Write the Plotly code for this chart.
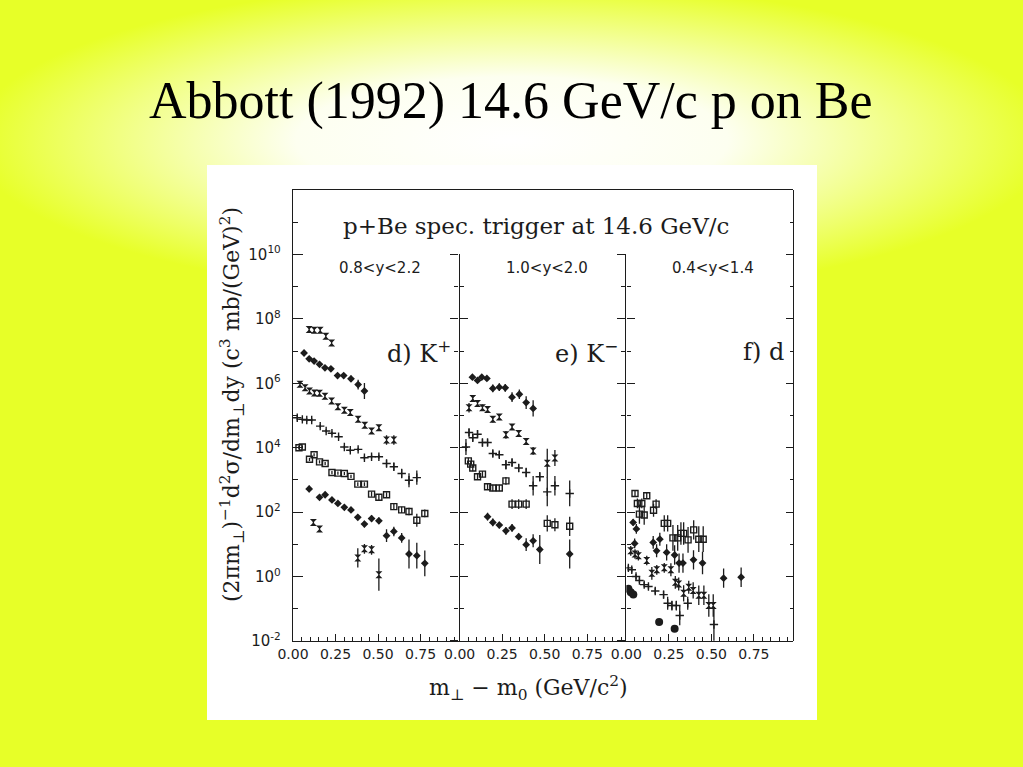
import base64
import plotly.graph_objects as go

# ---------------- data (log10 of the cross-section) ----------------
# panel d) K+  0.8<y<2.2
kp_a_x = [0.095, 0.125, 0.160, 0.193, 0.227]
kp_a_lg = [7.67, 7.65, 7.65, 7.46, 7.25]
kp_a_err = [0.05, 0.05, 0.05, 0.06, 0.08]

kp_b_x = [0.065, 0.095, 0.124, 0.156, 0.188, 0.223, 0.262, 0.298, 0.341, 0.383, 0.420]
kp_b_lg = [6.94, 6.76, 6.69, 6.59, 6.48, 6.45, 6.24, 6.24, 6.14, 5.96, 5.76]
kp_b_err = [0.05, 0.05, 0.05, 0.05, 0.05, 0.06, 0.08, 0.08, 0.10, 0.15, 0.25]

kp_c_x = [0.041, 0.071, 0.097, 0.126, 0.156, 0.188, 0.227, 0.264, 0.302, 0.337, 0.383,
          0.422, 0.462, 0.505, 0.550, 0.593]
kp_c_lg = [5.97, 5.86, 5.76, 5.70, 5.69, 5.60, 5.45, 5.27, 5.16, 5.09, 4.88, 4.70, 4.52,
           4.62, 4.24, 4.24]
kp_c_err = [0.04, 0.04, 0.04, 0.04, 0.04, 0.04, 0.05, 0.05, 0.05, 0.05, 0.07, 0.07, 0.08,
            0.08, 0.15, 0.15]

kp_d_x = [0.025, 0.055, 0.081, 0.110, 0.160, 0.195, 0.229, 0.268, 0.302, 0.337, 0.383,
          0.420, 0.462, 0.505, 0.550, 0.593, 0.639, 0.682, 0.728]
kp_d_lg = [4.93, 4.88, 4.86, 4.86, 4.67, 4.52, 4.45, 4.34, 4.02, 3.92, 3.95, 3.69, 3.72,
           3.72, 3.51, 3.41, 3.20, 2.99, 3.07]
kp_d_err = [0.08, 0.05, 0.05, 0.05, 0.05, 0.05, 0.05, 0.05, 0.05, 0.05, 0.05, 0.06, 0.06,
            0.06, 0.12, 0.12, 0.15, 0.22, 0.22]

kp_e_x = [0.035, 0.055, 0.097, 0.124, 0.156, 0.189, 0.229, 0.264, 0.302, 0.341, 0.381,
          0.420, 0.462, 0.505, 0.550, 0.593, 0.639, 0.682, 0.728, 0.775]
kp_e_lg = [4.00, 4.02, 3.64, 3.78, 3.56, 3.51, 3.23, 3.21, 3.20, 3.11, 2.87, 2.87, 2.56,
           2.46, 2.54, 2.17, 2.07, 2.02, 1.75, 1.96]
kp_e_err = [0.05, 0.05, 0.05, 0.05, 0.05, 0.05, 0.05, 0.05, 0.05, 0.05, 0.06, 0.06, 0.08,
            0.10, 0.08, 0.10, 0.10, 0.12, 0.20, 0.12]

kp_f_x = [0.095, 0.156, 0.189, 0.229, 0.264, 0.302, 0.341, 0.381, 0.420, 0.462, 0.505,
          0.550, 0.593, 0.639, 0.682, 0.728, 0.775]
kp_f_lg = [2.72, 2.46, 2.54, 2.38, 2.27, 2.15, 2.07, 1.84, 1.63, 1.80, 1.73, 1.27, 1.40,
           1.20, 0.70, 0.65, 0.41]
kp_f_err = [0.10, 0.06, 0.06, 0.06, 0.06, 0.06, 0.06, 0.08, 0.10, 0.10, 0.10, 0.20, 0.15,
            0.15, 0.45, 0.40, 0.40]

kp_g_x = [0.120, 0.156, 0.381, 0.420, 0.462, 0.505]
kp_g_lg = [1.68, 1.48, 0.58, 0.86, 0.83, 0.06]
kp_g_err = [0.08, 0.08, 0.30, 0.15, 0.15, 0.50]

# panel e) K-  1.0<y<2.0
km_a_x = [0.075, 0.105, 0.130, 0.160, 0.195, 0.233, 0.268, 0.308, 0.351, 0.391, 0.432]
km_a_lg = [6.19, 6.09, 6.19, 6.15, 5.84, 5.88, 5.86, 5.57, 5.66, 5.40, 5.22]
km_a_err = [0.08, 0.08, 0.08, 0.08, 0.12, 0.12, 0.12, 0.15, 0.15, 0.20, 0.25]

km_b_x = [0.055, 0.077, 0.105, 0.134, 0.164, 0.195, 0.233, 0.272, 0.308, 0.347, 0.391,
          0.432, 0.515, 0.560]
km_b_lg = [5.24, 5.53, 5.37, 5.24, 5.19, 4.88, 4.95, 4.40, 4.64, 4.44, 4.19, 3.90, 3.52, 3.68]
km_b_err = [0.15, 0.08, 0.08, 0.10, 0.08, 0.10, 0.08, 0.12, 0.08, 0.08, 0.10, 0.12, 0.45, 0.25]

km_c_x = [0.037, 0.055, 0.077, 0.105, 0.134, 0.164, 0.195, 0.233, 0.272, 0.308, 0.347,
          0.391, 0.432, 0.471, 0.515, 0.560, 0.647]
km_c_lg = [4.02, 4.47, 4.31, 4.42, 4.16, 4.16, 3.82, 3.78, 3.47, 3.54, 3.37, 3.23, 2.82,
           3.10, 2.63, 2.82, 2.58]
km_c_err = [0.25, 0.12, 0.12, 0.12, 0.12, 0.10, 0.10, 0.10, 0.15, 0.12, 0.12, 0.15, 0.30,
            0.15, 0.45, 0.30, 0.40]

km_d_x = [0.051, 0.065, 0.077, 0.105, 0.134, 0.164, 0.195, 0.233, 0.272, 0.308, 0.347,
          0.391, 0.515, 0.560, 0.647]
km_d_lg = [3.59, 3.49, 3.37, 3.10, 3.18, 2.79, 2.75, 2.75, 2.97, 2.25, 2.25, 2.25, 1.65,
           1.61, 1.56]
km_d_err = [0.10, 0.10, 0.10, 0.10, 0.10, 0.10, 0.10, 0.10, 0.12, 0.15, 0.15, 0.15, 0.25,
            0.20, 0.30]

km_e_x = [0.164, 0.195, 0.233, 0.272, 0.308, 0.347, 0.391, 0.432, 0.471, 0.647]
km_e_lg = [1.86, 1.68, 1.60, 1.42, 1.51, 1.24, 0.99, 1.11, 0.84, 0.70]
km_e_err = [0.12, 0.12, 0.10, 0.12, 0.12, 0.10, 0.20, 0.20, 0.45, 0.45]

# panel f) d  0.4<y<1.4
dn_a_x = [0.051, 0.065, 0.077, 0.091, 0.105, 0.120, 0.160, 0.175, 0.223, 0.243, 0.274,
          0.302, 0.321, 0.337, 0.363, 0.396, 0.426, 0.452]
dn_a_lg = [2.58, 2.27, 1.94, 2.27, 1.91, 2.51, 2.06, 2.25, 1.65, 1.65, 1.20, 1.20, 1.34,
           1.34, 1.14, 1.45, 1.16, 1.16]
dn_a_err = [0.10, 0.15, 0.30, 0.15, 0.30, 0.10, 0.20, 0.15, 0.25, 0.25, 0.40, 0.40, 0.35,
            0.35, 0.40, 0.30, 0.40, 0.40]

dn_b_x = [0.040, 0.049, 0.059, 0.158, 0.178, 0.197, 0.237, 0.284, 0.310, 0.333, 0.395,
          0.448, 0.572, 0.675]
dn_b_lg = [1.68, 1.03, 1.48, 1.06, 0.80, 1.16, 0.75, 0.67, 0.42, 0.42, 0.52, 0.42, -0.05, -0.02]
dn_b_err = [0.10, 0.15, 0.15, 0.20, 0.20, 0.20, 0.25, 0.30, 0.30, 0.30, 0.30, 0.35, 0.30, 0.30]

dn_c_x = [0.026, 0.051, 0.071, 0.120, 0.150, 0.179, 0.223, 0.262, 0.288, 0.308, 0.337,
          0.367, 0.393, 0.426, 0.456, 0.485, 0.511]
dn_c_lg = [0.80, 0.70, 0.65, 0.50, 0.10, 0.21, 0.27, 0.21, -0.18, -0.23, -0.52, -0.33,
           -0.43, -0.58, -0.58, -0.90, -0.90]
dn_c_err = [0.15, 0.15, 0.15, 0.15, 0.20, 0.15, 0.15, 0.20, 0.20, 0.20, 0.25, 0.20, 0.25,
            0.30, 0.30, 0.35, 0.35]

dn_d_x = [0.012, 0.032, 0.057, 0.077, 0.105, 0.130, 0.170, 0.219, 0.243, 0.268, 0.294,
          0.314, 0.361, 0.515]
dn_d_lg = [0.27, 0.21, 0.00, -0.12, -0.25, -0.31, -0.45, -0.56, -0.83, -0.90, -0.90,
           -1.21, -0.83, -1.49]
dn_d_err = [0.08, 0.08, 0.08, 0.08, 0.08, 0.08, 0.10, 0.12, 0.20, 0.15, 0.15, 0.30, 0.20, 0.50]

dn_e_x = [0.012, 0.026, 0.041, 0.193, 0.284]
dn_e_lg = [-0.38, -0.49, -0.56, -1.41, -1.62]

# axes / labels
x_ticks = [0.0, 0.25, 0.50, 0.75]
x_ticktext = ["0.00", "0.25", "0.50", "0.75"]
y_exponents = [-2, 0, 2, 4, 6, 8, 10]
y_minor_exponents = [-1, 1, 3, 5, 7, 9, 11]
panel_names = ["d) K<sup>+</sup>", "e) K<sup>\u2212</sup>", "f) d"]
panel_cuts = ["0.8<y<2.2", "1.0<y<2.0", "0.4<y<1.4"]
Y_TOP = 12          # top of the frame (decades)
SEP_TOP = 10        # panel separators stop at 10^10

# ---------------- layout geometry (pixels) ----------------
W, H = 1023, 767
L, R, T, B = 293, 793, 190, 641


def fx(px):
    return (px - L) / (R - L)


def fy(py):
    return (B - py) / (B - T)


INK = "#1c1c1c"
fig = go.Figure()

# empty traces so that the frame / separator axes get their own subplots (drawn first)
for xa, ya in [("x2", "y2"), ("x2", "y3"), ("x3", "y4"), ("x3", "y5"), ("x3", "y6")]:
    fig.add_trace(go.Scatter(x=[], y=[], xaxis=xa, yaxis=ya, showlegend=False,
                             hoverinfo="skip"))


def add_series(panel, xs, lgs, errs, symbol, size, open_=False):
    ys = [10 ** v for v in lgs]
    kw = {}
    if errs is not None:
        kw["error_y"] = dict(type="data", symmetric=False,
                             array=[y * (10 ** e - 1) for y, e in zip(ys, errs)],
                             arrayminus=[y * (1 - 10 ** (-e)) for y, e in zip(ys, errs)],
                             color=INK, thickness=1.3, width=0)
    marker = dict(symbol=symbol, size=size, color=INK,
                  line=dict(color=INK, width=1.4 if open_ else 0))
    fig.add_trace(go.Scatter(x=xs, y=ys, mode="markers", marker=marker,
                             xaxis="x" if panel == 1 else f"x{panel}", yaxis="y",
                             showlegend=False, hoverinfo="skip", **kw))


add_series(1, kp_a_x, kp_a_lg, kp_a_err, "hourglass", 7)
add_series(1, kp_b_x, kp_b_lg, kp_b_err, "diamond", 6)
add_series(1, kp_c_x, kp_c_lg, kp_c_err, "hourglass", 7)
add_series(1, kp_d_x, kp_d_lg, kp_d_err, "cross-thin", 6, True)
add_series(1, kp_e_x, kp_e_lg, kp_e_err, "square-open", 6, True)
add_series(1, kp_f_x, kp_f_lg, kp_f_err, "diamond", 6)
add_series(1, kp_g_x, kp_g_lg, kp_g_err, "hourglass", 7)

add_series(2, km_a_x, km_a_lg, km_a_err, "diamond", 6)
add_series(2, km_b_x, km_b_lg, km_b_err, "hourglass", 7)
add_series(2, km_c_x, km_c_lg, km_c_err, "cross-thin", 6, True)
add_series(2, km_d_x, km_d_lg, km_d_err, "square-open", 6, True)
add_series(2, km_e_x, km_e_lg, km_e_err, "diamond", 6)

add_series(3, dn_a_x, dn_a_lg, dn_a_err, "square-open", 6, True)
add_series(3, dn_b_x, dn_b_lg, dn_b_err, "diamond", 6)
add_series(3, dn_c_x, dn_c_lg, dn_c_err, "hourglass", 7)
add_series(3, dn_d_x, dn_d_lg, dn_d_err, "cross-thin", 6, True)
add_series(3, dn_e_x, dn_e_lg, None, "circle", 8)

tickfont = dict(family="DejaVu Sans", size=14, color=INK)
xcommon = dict(range=[0, 0.98], showgrid=False, zeroline=False, showline=True,
               linecolor=INK, linewidth=1.4, mirror=True, ticks="inside", ticklen=7,
               tickwidth=1.2, tickcolor=INK, tickvals=x_ticks, ticktext=x_ticktext,
               tickfont=tickfont, anchor="y",
               minor=dict(dtick=0.05, ticks="inside", ticklen=4, tickcolor=INK, tickwidth=1))

major_vals = [10 ** e for e in y_exponents]
minor_vals = [10 ** e for e in y_minor_exponents]


def yax(anchor, side, ticks, top, labels=False, maj=8, mnr=4):
    d = dict(type="log", range=[-2, top], domain=[0, (top + 2) / (Y_TOP + 2)],
             anchor=anchor, side=side, showgrid=False, zeroline=False, showline=True,
             linecolor=INK, linewidth=1.4, ticks=ticks, ticklen=maj, tickwidth=1.2,
             tickcolor=INK, tickvals=major_vals,
             minor=dict(tickvals=minor_vals, ticks=ticks, ticklen=mnr, tickcolor=INK,
                        tickwidth=1.2))
    if labels:
        d.update(ticktext=[f"10<sup>{e}</sup>" for e in y_exponents],
                 tickfont=dict(family="DejaVu Sans", size=15, color=INK),
                 ticklabelstandoff=8)
    else:
        d.update(showticklabels=False)
    return d


layout = dict(
    width=W, height=H,
    margin=dict(l=L, r=W - R, t=T, b=H - B, pad=0),
    paper_bgcolor="#e7ff28", plot_bgcolor="rgba(0,0,0,0)",
    xaxis=dict(domain=[0, 1 / 3], **xcommon),
    xaxis2=dict(domain=[1 / 3, 2 / 3], **xcommon),
    xaxis3=dict(domain=[2 / 3, 1], **xcommon),
    yaxis=yax("x", "left", "inside", Y_TOP, labels=True, maj=10, mnr=5),
    yaxis2=yax("x2", "left", "inside", SEP_TOP),
    yaxis3=yax("x2", "left", "outside", SEP_TOP),
    yaxis4=yax("x3", "left", "inside", SEP_TOP),
    yaxis5=yax("x3", "left", "outside", SEP_TOP),
    yaxis6=yax("x3", "right", "inside", Y_TOP, maj=7, mnr=3),
)
fig.update_layout(**layout)

# background gradient (decoration)
svg = ('<svg xmlns="http://www.w3.org/2000/svg" width="1023" height="767" '
       'viewBox="0 0 1023 767" preserveAspectRatio="none"><defs>'
       '<radialGradient id="g" gradientUnits="userSpaceOnUse" cx="0" cy="0" r="1" '
       'gradientTransform="translate(512 140) scale(540 158)">'
       '<stop offset="0" stop-color="#ffffff"/><stop offset="0.4" stop-color="#fdfff0"/>'
       '<stop offset="1" stop-color="#e7ff28"/></radialGradient></defs>'
       '<rect width="1023" height="767" fill="#e7ff28"/>'
       '<rect width="1023" height="767" fill="url(#g)"/></svg>')
uri = "data:image/svg+xml;base64," + base64.b64encode(svg.encode()).decode()
fig.add_layout_image(dict(source=uri, xref="paper", yref="paper", x=fx(0), y=fy(0),
                          sizex=W / (R - L), sizey=H / (B - T), xanchor="left",
                          yanchor="top", sizing="stretch", layer="below"))
fig.add_shape(type="rect", xref="paper", yref="paper", x0=fx(207), x1=fx(817),
              y0=fy(720), y1=fy(165), fillcolor="white", line=dict(width=0), layer="below")

serif = "DejaVu Serif"
ann = []
ann.append(dict(text="Abbott (1992) 14.6 GeV/c p on Be", x=fx(511), y=fy(101),
                font=dict(family="Liberation Serif", size=52, color="black")))
ann.append(dict(text="p+Be spec. trigger at 14.6 GeV/c", x=fx(536), y=fy(226),
                font=dict(family=serif, size=23, color=INK)))
for i, (cut, name) in enumerate(zip(panel_cuts, panel_names)):
    x0 = L + i * (R - L) / 3
    ann.append(dict(text=cut, x=fx(x0 + 44), xanchor="left", y=fy(268),
                    font=dict(family="DejaVu Sans", size=15, color=INK)))
    ann.append(dict(text=name, x=fx(x0 + 160), xanchor="right", y=fy(352),
                    font=dict(family=serif, size=24, color=INK)))
ann.append(dict(text="m<sub>\u22a5</sub> \u2212 m<sub>0</sub> (GeV/c<sup>2</sup>)",
                x=fx(528), y=fy(688), font=dict(family=serif, size=22, color=INK)))
ann.append(dict(text="(2\u03c0m<sub>\u22a5</sub>)<sup>\u22121</sup>d<sup>2</sup>\u03c3/dm<sub>\u22a5</sub>dy"
                     " (c<sup>3</sup> mb/(GeV)<sup>2</sup>)",
                x=fx(232), y=fy(405), textangle=-90,
                font=dict(family=serif, size=22, color=INK)))
for a in ann:
    a.setdefault("xanchor", "center")
    a.update(xref="paper", yref="paper", showarrow=False, yanchor="middle")
fig.update_layout(annotations=ann)

fig.write_html("out.html", config={"displayModeBar": False},
               post_script="document.body.style.margin='0px';")
